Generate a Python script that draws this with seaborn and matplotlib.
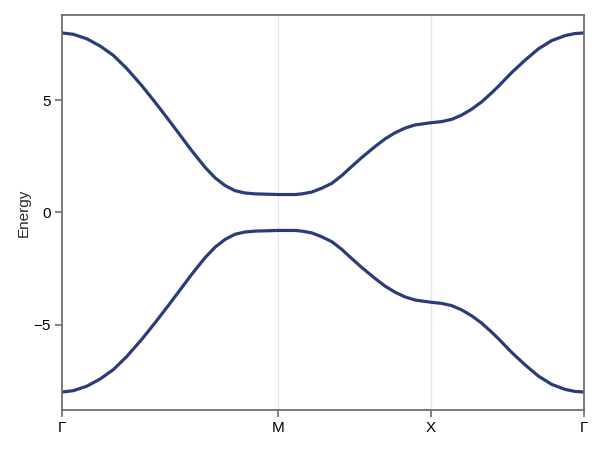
import numpy as np
import pandas as pd
import matplotlib
matplotlib.use("Agg")
import matplotlib.pyplot as plt
import seaborn as sns

# k-path positions (path length, Γ-M = sqrt(2), M-X = 1, X-Γ = 1)
k_path = [0.000, 0.074, 0.162, 0.249, 0.336, 0.423, 0.521, 0.608, 0.695, 0.760,
          0.848, 0.935, 1.002, 1.067, 1.132, 1.196, 1.262, 1.414,
          1.523, 1.569, 1.634, 1.698, 1.765, 1.831, 1.872, 1.959, 2.046, 2.113,
          2.178, 2.243, 2.309, 2.414,
          2.483, 2.549, 2.614, 2.679, 2.745, 2.810, 2.854, 2.942, 3.029, 3.116,
          3.203, 3.290, 3.352, 3.414]

upper_band = [8.00, 7.94, 7.74, 7.42, 7.00, 6.42, 5.66, 4.92, 4.15, 3.56,
              2.76, 2.02, 1.54, 1.20, 0.97, 0.87, 0.83, 0.80,
              0.80, 0.83, 0.91, 1.08, 1.30, 1.65, 1.91, 2.44, 2.93, 3.28,
              3.55, 3.76, 3.90, 4.00,
              4.05, 4.15, 4.34, 4.60, 4.93, 5.33, 5.62, 6.24, 6.79, 7.29,
              7.66, 7.88, 7.97, 8.00]

lower_band = [-8.00, -7.94, -7.74, -7.42, -7.00, -6.42, -5.66, -4.92, -4.15, -3.56,
              -2.76, -2.02, -1.54, -1.20, -0.97, -0.87, -0.83, -0.80,
              -0.80, -0.83, -0.91, -1.08, -1.30, -1.65, -1.91, -2.44, -2.93, -3.28,
              -3.55, -3.76, -3.90, -4.00,
              -4.05, -4.15, -4.34, -4.60, -4.93, -5.33, -5.62, -6.24, -6.79, -7.29,
              -7.66, -7.88, -7.97, -8.00]

tick_pos = [0.0, 1.414, 2.414, 3.414]
tick_labels = ["Γ", "M", "X", "Γ"]

sns.set_style("white")
plt.rcParams["font.family"] = ["Liberation Sans", "DejaVu Sans"]

df = pd.DataFrame({
    "k": k_path * 2,
    "Energy": upper_band + lower_band,
    "band": ["upper"] * len(k_path) + ["lower"] * len(k_path),
})

fig = plt.figure(figsize=(6, 4.5), dpi=100)
ax = fig.add_axes([0.1033, 0.0889, 0.87, 0.8778])

line_color = "#2a3d78"
sns.lineplot(data=df, x="k", y="Energy", units="band", estimator=None,
             color=line_color, lw=2.3, ax=ax, sort=False)
for line in ax.lines:
    line.set_solid_joinstyle("round")

ax.set_xlim(0, 3.414)
ax.set_ylim(-8.8, 8.8)
ax.set_xticks(tick_pos)
ax.set_xticklabels(tick_labels)
ax.set_yticks([-5, 0, 5])
ax.set_yticklabels(["\u22125", "0", "5"])

# only vertical grid lines at the high-symmetry points
for x in tick_pos[1:-1]:
    ax.axvline(x, color="#e6e6e6", lw=1, zorder=0)

for s in ax.spines.values():
    s.set_visible(True)
    s.set_color("#6e6e6e")
    s.set_linewidth(1.3)

ax.tick_params(axis="both", direction="out", length=5, width=1.2,
               color="#6e6e6e", labelsize=11, pad=3, labelcolor="black")
ax.tick_params(top=False, right=False, bottom=True, left=True)

ax.set_xlabel("")
ax.set_ylabel("Energy", fontsize=11, labelpad=2)

fig.savefig("out.png", dpi=100)
